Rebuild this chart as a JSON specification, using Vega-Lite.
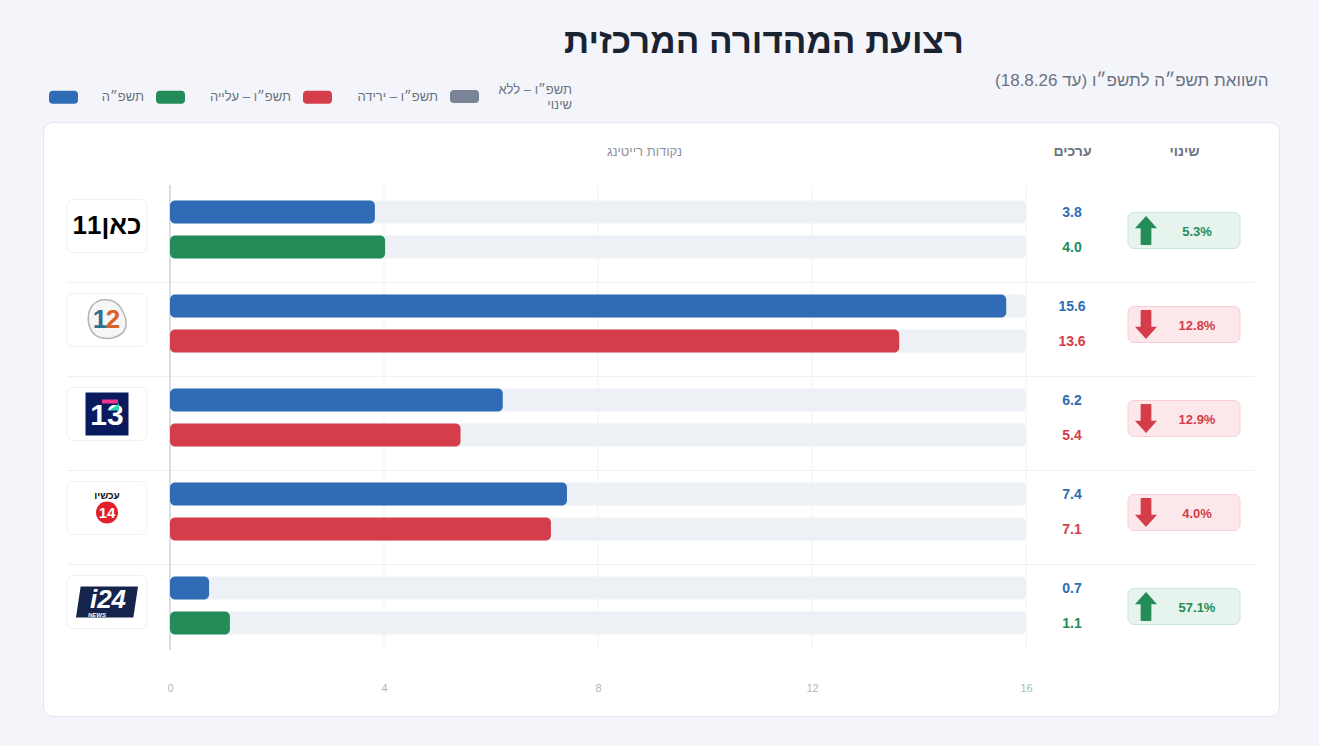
{
  "$schema": "https://vega.github.io/schema/vega-lite/v6.json",
  "width": 1236,
  "height": 594,
  "autosize": {"type": "none"},
  "padding": {"left": 43, "top": 122, "right": 40, "bottom": 30},
  "background": "#f3f5fa",
  "title": {
    "text": "רצועת המהדורה המרכזית",
    "anchor": "middle",
    "frame": "group",
    "dx": 103,
    "offset": 11,
    "fontSize": 35,
    "fontWeight": "bold",
    "color": "#1a2332"
  },
  "config": {
    "font": "Liberation Sans",
    "view": {"fill": "white", "stroke": "#e3e6ee", "cornerRadius": 10},
    "legend": {
      "orient": "none",
      "legendX": 6,
      "legendY": -46.5,
      "direction": "horizontal",
      "columns": 4,
      "title": null,
      "symbolType": "M-.75,-.45H.75A.25,.25 0 0 1 1,-.2V.2A.25,.25 0 0 1 .75,.45H-.75A.25,.25 0 0 1 -1,.2V-.2A.25,.25 0 0 1 -.75,-.45Z",
      "symbolSize": 841,
      "symbolStrokeWidth": 0,
      "labelFontSize": 13,
      "labelColor": "#6b7280",
      "labelAlign": "right",
      "labelOffset": 27,
      "columnPadding": 12
    }
  },
  "datasets": {
    "bars": [
      {"channel": "כאן 11", "year": "תשפ״ה", "series": "תשפ״ה", "value": 3.83},
      {"channel": "כאן 11", "year": "תשפ״ו", "series": "תשפ״ו – עלייה", "value": 4.02},
      {"channel": "קשת 12", "year": "תשפ״ה", "series": "תשפ״ה", "value": 15.63},
      {"channel": "קשת 12", "year": "תשפ״ו", "series": "תשפ״ו – ירידה", "value": 13.63},
      {"channel": "רשת 13", "year": "תשפ״ה", "series": "תשפ״ה", "value": 6.22},
      {"channel": "רשת 13", "year": "תשפ״ו", "series": "תשפ״ו – ירידה", "value": 5.43},
      {"channel": "עכשיו 14", "year": "תשפ״ה", "series": "תשפ״ה", "value": 7.42},
      {"channel": "עכשיו 14", "year": "תשפ״ו", "series": "תשפ״ו – ירידה", "value": 7.12},
      {"channel": "i24NEWS", "year": "תשפ״ה", "series": "תשפ״ה", "value": 0.73},
      {"channel": "i24NEWS", "year": "תשפ״ו", "series": "תשפ״ו – עלייה", "value": 1.12}
    ],
    "changes": [
      {"channel": "כאן 11", "change": "5.3%", "direction": "up", "series": "תשפ״ו – עלייה"},
      {"channel": "קשת 12", "change": "12.8%", "direction": "down", "series": "תשפ״ו – ירידה"},
      {"channel": "רשת 13", "change": "12.9%", "direction": "down", "series": "תשפ״ו – ירידה"},
      {"channel": "עכשיו 14", "change": "4.0%", "direction": "down", "series": "תשפ״ו – ירידה"},
      {"channel": "i24NEWS", "change": "57.1%", "direction": "up", "series": "תשפ״ו – עלייה"}
    ],
    "gridTicks": [{"tick": 4}, {"tick": 8}, {"tick": 12}, {"tick": 16}]
  },
  "encoding": {
    "y": {
      "field": "channel",
      "type": "nominal",
      "sort": null,
      "axis": null,
      "scale": {
        "domain": ["כאן 11", "קשת 12", "רשת 13", "עכשיו 14", "i24NEWS"],
        "range": [66.5, 536.5],
        "paddingInner": 0,
        "paddingOuter": 0
      }
    }
  },
  "resolve": {"scale": {"x": "independent"}},
  "layer": [
    {
      "data": {"name": "changes"},
      "transform": [{"filter": "datum.channel !== 'כאן 11'"}],
      "mark": {"type": "rule", "color": "#eef0f4", "strokeWidth": 1},
      "encoding": {
        "y": {"field": "channel", "type": "nominal", "bandPosition": 0},
        "x": {"datum": 0, "type": "quantitative", "scale": {"domain": [0, 1], "range": [24, 1212]}, "axis": null},
        "x2": {"datum": 1}
      }
    },
    {
      "data": {"name": "gridTicks"},
      "mark": {"type": "tick", "color": "#f0f2f6", "size": 465, "thickness": 1.5, "yOffset": -6},
      "encoding": {
        "y": {"datum": "רשת 13", "type": "nominal"},
        "x": {"field": "tick", "type": "quantitative", "scale": {"domain": [0, 16], "range": [127, 983]}, "axis": null}
      }
    },
    {
      "data": {"values": [{"tick": 0}]},
      "mark": {"type": "tick", "color": "#c9ced8", "size": 465, "thickness": 2, "yOffset": -6},
      "encoding": {
        "y": {"datum": "רשת 13", "type": "nominal"},
        "x": {"field": "tick", "type": "quantitative", "scale": {"domain": [0, 16], "range": [127, 983]}, "axis": null}
      }
    },
    {
      "data": {"name": "bars"},
      "mark": {"type": "bar", "color": "#edf0f5", "cornerRadius": 5},
      "encoding": {
        "yOffset": {"field": "year", "type": "nominal", "scale": {"domain": ["תשפ״ה", "תשפ״ו"], "paddingInner": 0.343, "paddingOuter": 0.514, "align": 0.333}},
        "x": {"datum": 16, "type": "quantitative", "stack": null, "scale": {"domain": [0, 16], "range": [127, 983]}, "axis": null}
      }
    },
    {
      "data": {"name": "bars"},
      "mark": {"type": "bar", "cornerRadius": 5},
      "encoding": {
        "yOffset": {"field": "year", "type": "nominal"},
        "x": {
          "field": "value",
          "type": "quantitative",
          "stack": null,
          "scale": {"domain": [0, 16], "range": [127, 983]},
          "axis": {
            "orient": "bottom",
            "offset": -34,
            "values": [0, 4, 8, 12, 16],
            "format": "d",
            "grid": false,
            "domain": false,
            "ticks": false,
            "labelFlush": false,
            "labelPadding": 0,
            "labelFontSize": 11,
            "labelColor": "#b3b6bc",
            "title": "נקודות רייטינג",
            "titleFontSize": 13,
            "titleFontWeight": "normal",
            "titleColor": "#8a909c",
            "titleX": 601,
            "titleY": -531,
            "titleAlign": "center",
            "titleBaseline": "middle"
          }
        },
        "color": {
          "field": "series",
          "type": "nominal",
          "scale": {
            "domain": ["תשפ״ה", "תשפ״ו – עלייה", "תשפ״ו – ירידה", "תשפ״ו – ללא שינוי"],
            "range": ["#2f6cb5", "#238c58", "#d43d4a", "#7a8497"]
          },
          "legend": {
            "labelExpr": "datum.label === 'תשפ״ו – ללא שינוי' ? ['תשפ״ו – ללא', 'שינוי'] : datum.label",
            "encode": {
              "symbols": {
                "update": {
                  "y": {"signal": "datum.value === 'תשפ״ו – ללא שינוי' ? 21 : 14.5"}
                }
              },
              "labels": {
                "update": {
                  "dx": {"signal": "datum.value === 'תשפ״ה' ? 39 : datum.value === 'תשפ״ו – ללא שינוי' ? 66 : 79"},
                  "dy": {"signal": "datum.value === 'תשפ״ו – ללא שינוי' ? -0.5 : 0"}
                }
              }
            }
          }
        }
      }
    },
    {
      "data": {"name": "bars"},
      "mark": {"type": "text", "fontSize": 14, "fontWeight": "bold", "baseline": "middle", "dy": 1},
      "encoding": {
        "yOffset": {"field": "year", "type": "nominal"},
        "x": {
          "datum": "ערכים",
          "type": "nominal",
          "scale": {"domain": ["ערכים", "שינוי"], "range": [973, 1197], "paddingInner": 0, "paddingOuter": 0},
          "axis": {
            "orient": "top",
            "offset": -36,
            "labelAngle": 0,
            "labelPadding": 0,
            "domain": false,
            "ticks": false,
            "grid": false,
            "labelFontSize": 14,
            "labelFontWeight": "bold",
            "labelColor": "#6b7280",
            "title": "השוואת תשפ״ה לתשפ״ו (עד 18.8.26)",
            "titleFontSize": 17,
            "titleFontWeight": "normal",
            "titleColor": "#6b7280",
            "titleX": 1225,
            "titleY": -73,
            "titleAlign": "right",
            "titleBaseline": "alphabetic"
          }
        },
        "text": {"field": "value", "type": "quantitative", "format": ".1f"},
        "color": {"field": "series", "type": "nominal"}
      }
    },
    {
      "data": {"name": "changes"},
      "encoding": {
        "x": {
          "datum": "שינוי",
          "type": "nominal",
          "scale": {"domain": ["ערכים", "שינוי"], "range": [973, 1197], "paddingInner": 0, "paddingOuter": 0},
          "axis": null
        }
      },
      "layer": [
        {
          "mark": {"type": "rect", "width": 112, "height": 36, "cornerRadius": 6, "strokeWidth": 1, "yOffset": -5},
          "encoding": {
            "fill": {"field": "direction", "type": "nominal", "scale": {"domain": ["up", "down"], "range": ["#e7f4ed", "#fce8ea"]}, "legend": null},
            "stroke": {"field": "direction", "type": "nominal", "scale": {"domain": ["up", "down"], "range": ["#cde6d8", "#f6ced4"]}, "legend": null}
          }
        },
        {
          "mark": {
            "type": "point",
            "filled": true,
            "opacity": 1,
            "size": 841,
            "xOffset": -38,
            "yOffset": -5,
            "shape": "M0,-1L.76,-.15H.37V.93Q.37,1 .3,1H-.3Q-.37,1 -.37,.93V-.15H-.76Z"
          },
          "encoding": {
            "color": {"field": "series", "type": "nominal"},
            "angle": {"field": "direction", "type": "nominal", "scale": {"domain": ["up", "down"], "range": [0, 180]}, "legend": null}
          }
        },
        {
          "mark": {"type": "text", "fontSize": 13, "fontWeight": "bold", "baseline": "middle", "dx": 13, "dy": -4},
          "encoding": {
            "text": {"field": "change", "type": "nominal"},
            "color": {"field": "series", "type": "nominal"}
          }
        }
      ]
    },
    {
      "data": {"name": "changes"},
      "encoding": {
        "x": {"datum": "לוגו", "type": "nominal", "scale": {"domain": ["לוגו"], "range": [24, 104], "paddingInner": 0, "paddingOuter": 0}, "axis": null}
      },
      "layer": [
        {"mark": {"type": "rect", "width": 80, "height": 53, "cornerRadius": 6, "fill": "white", "stroke": "#eef0f4", "strokeWidth": 1, "yOffset": -9.5}},
        {
          "data": {"values": [{"channel": "כאן 11", "label": "11כאן"}]},
          "mark": {"type": "text", "fontSize": 26, "fontWeight": "bold", "color": "#000000", "baseline": "middle", "dy": -10},
          "encoding": {"text": {"field": "label", "type": "nominal"}}
        },
        {
          "data": {"values": [{"channel": "קשת 12"}]},
          "mark": {
            "type": "point",
            "filled": false,
            "fill": "#f6f6f6",
            "fillOpacity": 1,
            "stroke": "#b5b5b5",
            "strokeOpacity": 1,
            "strokeWidth": 1.5,
            "size": 1700,
            "yOffset": -10,
            "shape": "M-.3,-.95C.1,-1 .5,-.9 .7,-.5C.95,-.1 1,.3 .8,.6C.5,.9 0,1 -.4,.85C-.8,.7 -.95,.2 -.9,-.2C-.85,-.6 -.65,-.85 -.3,-.95Z"
          }
        },
        {
          "data": {"values": [{"channel": "קשת 12", "label": "1"}]},
          "mark": {"type": "text", "fontSize": 26, "fontWeight": "bold", "color": "#2f6f8f", "baseline": "middle", "dx": -7, "dy": -10},
          "encoding": {"text": {"field": "label", "type": "nominal"}}
        },
        {
          "data": {"values": [{"channel": "קשת 12", "label": "2"}]},
          "mark": {"type": "text", "fontSize": 26, "fontWeight": "bold", "color": "#d9622b", "baseline": "middle", "dx": 6, "dy": -10},
          "encoding": {"text": {"field": "label", "type": "nominal"}}
        },
        {
          "data": {"values": [{"channel": "רשת 13"}]},
          "mark": {"type": "point", "shape": "square", "filled": true, "opacity": 1, "color": "#0a1a5f", "size": 1849, "yOffset": -9.5}
        },
        {
          "data": {"values": [{"channel": "רשת 13", "label": "13"}]},
          "mark": {"type": "text", "fontSize": 30, "fontWeight": "bold", "color": "white", "baseline": "middle", "dy": -8},
          "encoding": {"text": {"field": "label", "type": "nominal"}}
        },
        {
          "data": {"values": [{"channel": "רשת 13"}]},
          "mark": {"type": "point", "shape": "M-1,-.25H1V.25H-1Z", "filled": true, "opacity": 1, "color": "#f0348f", "size": 256, "xOffset": 3, "yOffset": -22}
        },
        {
          "data": {"values": [{"channel": "רשת 13"}]},
          "mark": {"type": "point", "shape": "M1,-1V.4H-1Z", "filled": true, "opacity": 1, "color": "#2ed3b0", "size": 100, "xOffset": 7, "yOffset": -15}
        },
        {
          "data": {"values": [{"channel": "עכשיו 14", "label": "עכשיו"}]},
          "mark": {"type": "text", "fontSize": 10, "fontWeight": "bold", "color": "#111111", "baseline": "middle", "dy": -22},
          "encoding": {"text": {"field": "label", "type": "nominal"}}
        },
        {
          "data": {"values": [{"channel": "עכשיו 14"}]},
          "mark": {"type": "point", "shape": "circle", "filled": true, "opacity": 1, "color": "#e1202c", "size": 484, "yOffset": -5}
        },
        {
          "data": {"values": [{"channel": "עכשיו 14", "label": "14"}]},
          "mark": {"type": "text", "fontSize": 15, "fontWeight": "bold", "color": "white", "baseline": "middle", "dy": -5},
          "encoding": {"text": {"field": "label", "type": "nominal"}}
        },
        {
          "data": {"values": [{"channel": "i24NEWS"}]},
          "mark": {"type": "point", "shape": "M-.85,-.5H1L.85,.5H-1Z", "filled": true, "opacity": 1, "color": "#14244a", "size": 3844, "yOffset": -9.5}
        },
        {
          "data": {"values": [{"channel": "i24NEWS", "label": "i24"}]},
          "mark": {"type": "text", "fontSize": 26, "fontWeight": "bold", "fontStyle": "italic", "color": "white", "baseline": "middle", "dx": 1, "dy": -12},
          "encoding": {"text": {"field": "label", "type": "nominal"}}
        },
        {
          "data": {"values": [{"channel": "i24NEWS", "label": "NEWS"}]},
          "mark": {"type": "text", "fontSize": 6, "fontWeight": "bold", "fontStyle": "italic", "color": "white", "baseline": "middle", "dx": -10, "dy": 3},
          "encoding": {"text": {"field": "label", "type": "nominal"}}
        }
      ]
    }
  ]
}
